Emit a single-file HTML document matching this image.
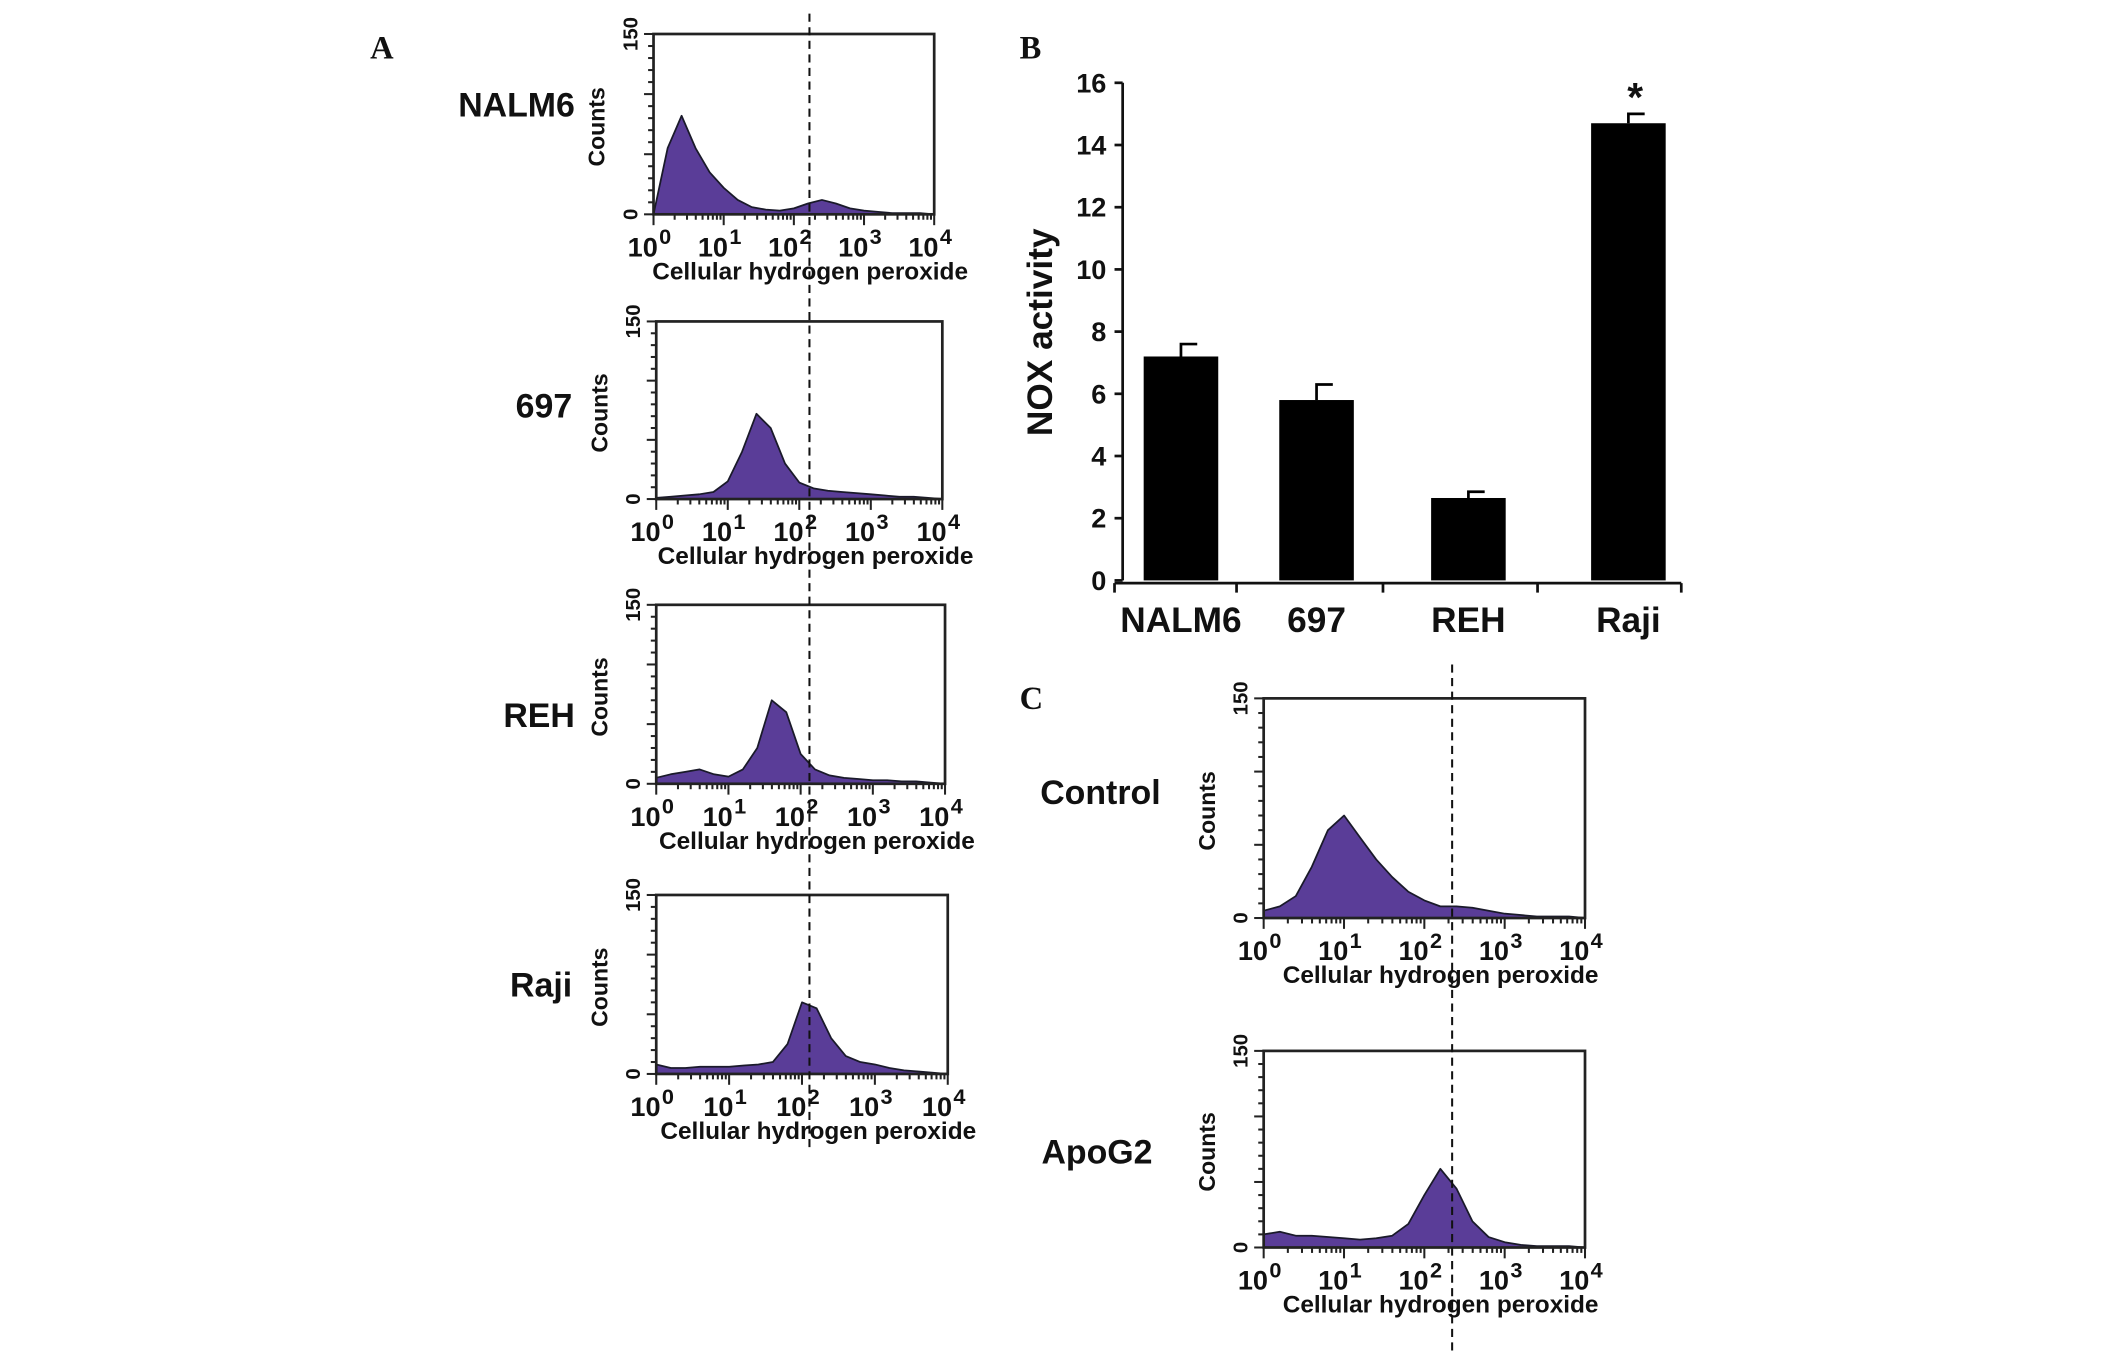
<!DOCTYPE html>
<html><head><meta charset="utf-8"><style>
html,body{margin:0;padding:0;background:#fff}
svg{display:block}
text{font-family:"Liberation Sans",Arial,sans-serif;font-weight:bold;fill:#111}
.serif{font-family:"Liberation Serif",serif}
</style></head><body>
<svg id="fig" xmlns="http://www.w3.org/2000/svg" width="2126" height="1352" viewBox="0 0 1568 997">
<rect width="1568" height="997" fill="#fff"/>
<text class="serif" x="273" y="43" font-size="24">A</text>
<text class="serif" x="752" y="43" font-size="24">B</text>
<text class="serif" x="752" y="523" font-size="24">C</text>
<g id="hists"></g>
<g id="bars"></g>
</svg>
<script>
// ---- Panel B data ----
const barCategories = ["NALM6","697","REH","Raji"];
const barValues = [7.2, 5.8, 2.65, 14.7];
const barErrors = [0.4, 0.5, 0.2, 0.3];
const barTicks = [0,2,4,6,8,10,12,14,16];
const barSignif = ["","","","*"];

// ---- Histogram data (counts at log10 positions 0,0.2,...,4) ----
const histLogX = [0,0.2,0.4,0.6,0.8,1,1.2,1.4,1.6,1.8,2,2.2,2.4,2.6,2.8,3,3.2,3.4,3.6,3.8,4];
const histNALM6 = [0,55,82,55,35,22,12,6,4,3,5,9,12,9,5,3,2,1,1,1,0];
const hist697 = [1,2,3,4,6,15,40,72,60,30,14,9,7,6,5,4,3,2,2,1,0];
const histREH = [5,8,10,12,8,6,12,30,70,60,25,12,7,5,4,3,3,2,2,1,0];
const histRaji = [8,5,5,6,6,6,7,8,10,25,60,55,30,15,10,8,5,3,2,1,0];
const histControl = [5,8,15,35,60,70,55,40,28,18,12,8,8,7,5,3,2,1,1,1,0];
const histApoG2 = [10,12,9,9,8,7,6,7,9,18,40,60,45,20,8,4,2,1,1,1,0];
const xTickExp = ["0","1","2","3","4"];

const NS="http://www.w3.org/2000/svg";
function mk(tag, attrs, parent){const e=document.createElementNS(NS,tag);for(const k in attrs)e.setAttribute(k,attrs[k]);parent.appendChild(e);return e;}

const panels = [
 {name:"NALM6", data:histNALM6, x0:482,x1:689,y0:25,y1:158, lx:424, ly:86},
 {name:"697", data:hist697, x0:484,x1:695,y0:237,y1:368, lx:422, ly:308},
 {name:"REH", data:histREH, x0:484,x1:697,y0:446,y1:578, lx:424, ly:536},
 {name:"Raji", data:histRaji, x0:484,x1:699,y0:660,y1:792, lx:422, ly:735},
 {name:"Control", data:histControl, x0:932,x1:1169,y0:515,y1:677, lx:856, ly:593},
 {name:"ApoG2", data:histApoG2, x0:932,x1:1169,y0:775,y1:920, lx:850, ly:858}
];
const hg=document.getElementById('hists');
panels.forEach(p=>{
 const g=mk('g',{},hg);
 
 
 const sx=v=>p.x0+(p.x1-p.x0)*v/4;
 const sy=c=>p.y1-(p.y1-p.y0)*c/150;
 let d='M'+sx(0)+','+sy(0);
 histLogX.forEach((lx,i)=>{d+=' L'+sx(lx).toFixed(1)+','+sy(p.data[i]).toFixed(1);});
 d+=' L'+sx(4)+','+sy(0)+' Z';
 const path=mk('path',{d:d,fill:'#5a3d98',stroke:'#1a1a2a','stroke-width':1.3,'stroke-linejoin':'round'},g);
 
 
 const box=mk('rect',{x:p.x0,y:p.y0,width:p.x1-p.x0,height:p.y1-p.y0,fill:'none',stroke:'#222','stroke-width':2},g);
 
 
 for(let c=0;c<=150;c+=10){mk('line',{x1:p.x0-(c%50==0?7:4),x2:p.x0,y1:sy(c),y2:sy(c),stroke:'#222','stroke-width':1.5},g);}
 for(let dcd=0;dcd<4;dcd++){for(let k=1;k<10;k++){const v=dcd+Math.log10(k);mk('line',{x1:sx(v),x2:sx(v),y1:p.y1,y2:p.y1+(k==1?8:4),stroke:'#222','stroke-width':1.5},g);}}
 mk('line',{x1:sx(4),x2:sx(4),y1:p.y1,y2:p.y1+8,stroke:'#222','stroke-width':1.5},g);
 xTickExp.forEach((e,i)=>{
  const t=mk('text',{x:sx(i)-3,y:p.y1+31,'font-size':20,'font-weight':'normal','text-anchor':'middle'},g);
  
  
  t.textContent='10';
  const s=mk('tspan',{dy:-9,'font-size':16,dx:1},t);s.textContent=e;
 });
 const yt1=mk('text',{transform:`translate(${p.x0-12},${p.y0}) rotate(-90)`,'font-size':15,'font-weight':'normal','text-anchor':'middle'},g);
 
 
 yt1.textContent='150';
 const yt0=mk('text',{transform:`translate(${p.x0-12},${p.y1}) rotate(-90)`,'font-size':15,'font-weight':'normal','text-anchor':'middle'},g);
 
 
 yt0.textContent='0';
 const yl=mk('text',{transform:`translate(${p.x0-36},${(p.y0+p.y1)/2+2}) rotate(-90)`,'font-size':17,'text-anchor':'middle'},g);
 
 
 yl.textContent='Counts';
 const xl=mk('text',{x:(p.x0+p.x1)/2+12,y:p.y1+48,'font-size':18,'text-anchor':'middle'},g);
 
 
 xl.textContent='Cellular hydrogen peroxide';
 const nl=mk('text',{x:p.lx,y:p.ly,'font-size':25,'text-anchor':'end'},g);
 
 
 nl.textContent=p.name;
});
const d1=mk('line',{x1:597,x2:597,y1:10,y2:850,stroke:'#111','stroke-width':1.5,'stroke-dasharray':'6,4'},hg);


const d2=mk('line',{x1:1071,x2:1071,y1:490,y2:997,stroke:'#111','stroke-width':1.5,'stroke-dasharray':'6,4'},hg);



// ---- Bar chart ----
const bg=document.getElementById('bars');
const ax0=828, ay0=428, ay1=61;
const by=v=>ay0-(ay0-ay1)*v/16;
const barCenters=[871,971,1083,1201];
const bw=55;
mk('line',{x1:ax0,x2:ax0,y1:ay1,y2:ay0,stroke:'#111','stroke-width':2},bg);
mk('line',{x1:822,x2:1240,y1:ay0+2,y2:ay0+2,stroke:'#111','stroke-width':2},bg);
[822,912,1020,1134,1240].forEach(x=>mk('line',{x1:x,x2:x,y1:ay0+2,y2:ay0+9,stroke:'#111','stroke-width':2},bg));
barTicks.forEach(t=>{
 mk('line',{x1:ax0-6,x2:ax0,y1:by(t),y2:by(t),stroke:'#111','stroke-width':2},bg);
 const tl=mk('text',{x:ax0-12,y:by(t)+7,'font-size':20,'text-anchor':'end'},bg);
 
 
 tl.textContent=t;
});
const yt=mk('text',{transform:`translate(776,245) rotate(-90)`,'font-size':26,'text-anchor':'middle'},bg);


yt.textContent='NOX activity';
barCategories.forEach((c,i)=>{
 const cx=barCenters[i];
 const r=mk('rect',{x:cx-bw/2,y:by(barValues[i]),width:bw,height:ay0-by(barValues[i]),fill:'#000'},bg);
 
 
 const ey=by(barValues[i]+barErrors[i]);
 const e=mk('path',{d:`M${cx},${by(barValues[i])} V${ey} M${cx-1},${ey} H${cx+12}`,stroke:'#000','stroke-width':2,fill:'none'},bg);
 
 
 const l=mk('text',{x:cx,y:466,'font-size':26,'text-anchor':'middle'},bg);
 
 
 l.textContent=c;
 if(barSignif[i]){
  const s=mk('text',{x:cx+5,y:ey-2,'font-size':30,'text-anchor':'middle'},bg);
  
  
  s.textContent=barSignif[i];
 }
});
</script>
</body></html>
